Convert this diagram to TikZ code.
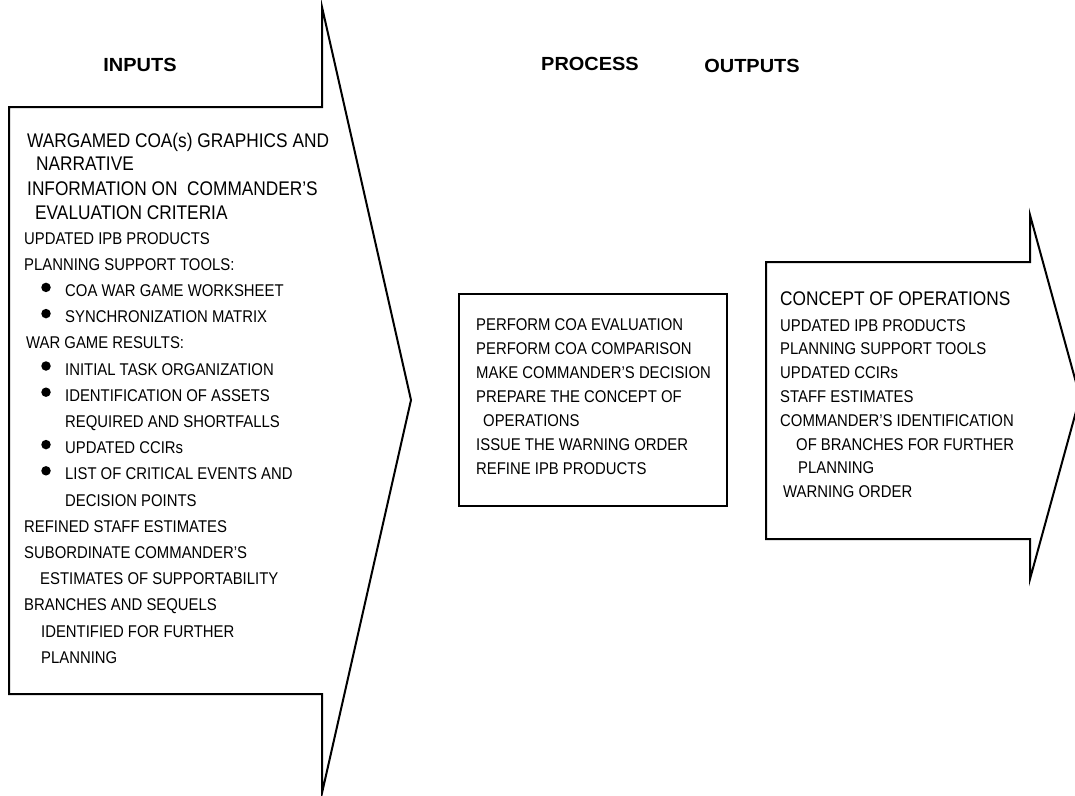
\documentclass[tikz,border=0pt]{standalone}
\usepackage{fontspec}
\setmainfont{Liberation Sans}[FakeStretch=0.875]
\newfontfamily\headfont{Liberation Sans}[FakeStretch=1.05]
\tikzset{
  shapeline/.style={draw=black, line width=2pt, line join=miter},
  boxline/.style={draw=black, line width=2.8pt},
  txt/.style={anchor=base west, inner sep=0pt, font=\fontsize{17}{20}\selectfont, text=black},
  bigtxt/.style={anchor=base west, inner sep=0pt, font=\fontsize{19.75}{22}\selectfont, text=black},
  head/.style={anchor=base, inner sep=0pt, font=\headfont\bfseries\fontsize{19}{22}\selectfont},
  dot/.style={circle, fill=black, inner sep=0pt, minimum size=9.5pt}
}
\begin{document}
\begin{tikzpicture}[x=1pt,y=-1pt]
\useasboundingbox (0,0) rectangle (1075,795);
\clip (0,0) rectangle (1075,795);
\fill[white] (0,0) rectangle (1075,795);

% headers
\node[head] (hin) at (140,71) {INPUTS};
\node[head] (hpr) at (590,70) {PROCESS};
\node[head] (hout) at (752,72) {OUTPUTS};

% input arrow
\draw[shapeline] (9,107) -- (322,107) -- (322,7) -- (411,400) -- (322,793) -- (322,694) -- (9,694) -- cycle;

% output arrow
\draw[shapeline] (766,262) -- (1030,262) -- (1030,215) -- (1080,397) -- (1030,579) -- (1030,539) -- (766,539) -- cycle;

% process box
\draw[boxline] (459,294) rectangle (727,506);

% inputs text
\node[bigtxt] (i1) at (27,147) {WARGAMED COA(s) GRAPHICS AND};
\node[bigtxt] (i2) at (36,170) {NARRATIVE};
\node[bigtxt] (i3) at (27,195) {INFORMATION ON \ COMMANDER’S};
\node[bigtxt] (i4) at (35,219) {EVALUATION CRITERIA};
\node[txt] (i5) at (24,244.1) {UPDATED IPB PRODUCTS};
\node[txt] (i6) at (24,270.3) {PLANNING SUPPORT TOOLS:};
\node[dot] (b1) at (46,287.4) {};
\node[txt] (i7) at (65,296.5) {COA WAR GAME WORKSHEET};
\node[dot] (b2) at (46,313.6) {};
\node[txt] (i8) at (65,322.7) {SYNCHRONIZATION MATRIX};
\node[txt] (i9) at (26,348.9) {WAR GAME RESULTS:};
\node[dot] (b3) at (46,366) {};
\node[txt] (i10) at (65,375.1) {INITIAL TASK ORGANIZATION};
\node[dot] (b4) at (46,392.2) {};
\node[txt] (i11) at (65,401.3) {IDENTIFICATION OF ASSETS};
\node[txt] (i12) at (65,427.5) {REQUIRED AND SHORTFALLS};
\node[dot] (b5) at (46,444.6) {};
\node[txt] (i13) at (65,453.7) {UPDATED CCIRs};
\node[dot] (b6) at (46,470.8) {};
\node[txt] (i14) at (65,479.9) {LIST OF CRITICAL EVENTS AND};
\node[txt] (i15) at (65,506.1) {DECISION POINTS};
\node[txt] (i16) at (24,532.3) {REFINED STAFF ESTIMATES};
\node[txt] (i17) at (24,558.5) {SUBORDINATE COMMANDER’S};
\node[txt] (i18) at (40,584.7) {ESTIMATES OF SUPPORTABILITY};
\node[txt] (i19) at (24,610.9) {BRANCHES AND SEQUELS};
\node[txt] (i20) at (41,637.1) {IDENTIFIED FOR FURTHER};
\node[txt] (i21) at (41,663.3) {PLANNING};

% process text
\node[txt] (p1) at (476,330) {PERFORM COA EVALUATION};
\node[txt] (p2) at (476,354) {PERFORM COA COMPARISON};
\node[txt] (p3) at (476,378) {MAKE COMMANDER’S DECISION};
\node[txt] (p4) at (476,402) {PREPARE THE CONCEPT OF};
\node[txt] (p5) at (483,426) {OPERATIONS};
\node[txt] (p6) at (476,450) {ISSUE THE WARNING ORDER};
\node[txt] (p7) at (476,474) {REFINE IPB PRODUCTS};

% outputs text
\node[bigtxt] (o1) at (780,305) {CONCEPT OF OPERATIONS};
\node[txt] (o2) at (780,331) {UPDATED IPB PRODUCTS};
\node[txt] (o3) at (780,354.8) {PLANNING SUPPORT TOOLS};
\node[txt] (o4) at (780,378.6) {UPDATED CCIRs};
\node[txt] (o5) at (780,402.4) {STAFF ESTIMATES};
\node[txt] (o6) at (780,426.2) {COMMANDER’S IDENTIFICATION};
\node[txt] (o7) at (796,450) {OF BRANCHES FOR FURTHER};
\node[txt] (o8) at (798,473.8) {PLANNING};
\node[txt] (o9) at (783,497.6) {WARNING ORDER};
\end{tikzpicture}
\end{document}
